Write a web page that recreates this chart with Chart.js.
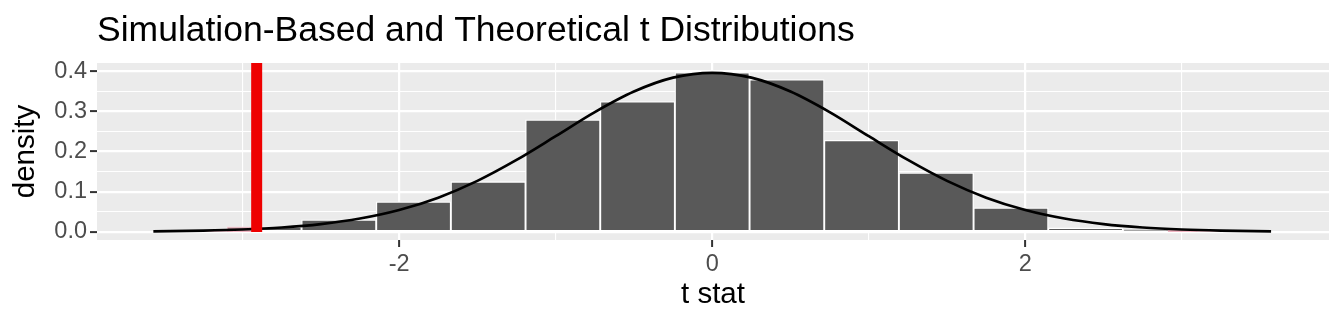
<!DOCTYPE html>
<html>
<head>
<meta charset="utf-8">
<script src="https://cdn.jsdelivr.net/npm/chart.js@4.4.1/dist/chart.umd.min.js"></script>
<style>
  html, body { margin: 0; padding: 0; background: #ffffff; }
  canvas { display: block; }
</style>
</head>
<body>
<canvas id="tChart" width="1344" height="326"></canvas>
<script>
// histogram of the simulated t statistics (bin centres and densities)
const binCenters = [-2.862, -2.385, -1.908, -1.431, -0.954, -0.477, 0, 0.477, 0.954, 1.431, 1.908, 2.385, 2.862];
const binDensity = [0.013, 0.030, 0.075, 0.125, 0.279, 0.324, 0.396, 0.379, 0.228, 0.147, 0.060, 0.010, 0.006];
const binWidth = 0.477;

// theoretical t density
const curveX = [-3.57, -3.25, -3.0, -2.75, -2.5, -2.25, -2.0, -1.75, -1.5, -1.25, -1.0, -0.75, -0.5, -0.25, 0,
                0.25, 0.5, 0.75, 1.0, 1.25, 1.5, 1.75, 2.0, 2.25, 2.5, 2.75, 3.0, 3.25, 3.57];
const curveY = [0.0015, 0.0033, 0.0061, 0.0111, 0.0196, 0.0334, 0.0546, 0.0853, 0.1270, 0.1790, 0.2380, 0.2979, 0.3490, 0.3835, 0.3956,
                0.3835, 0.3490, 0.2979, 0.2380, 0.1790, 0.1270, 0.0853, 0.0546, 0.0334, 0.0196, 0.0111, 0.0061, 0.0033, 0.0015];

// observed statistic
const obsStat = -2.91;
const obsDensity = 0.0075;

// axes
const xMajor = [-2, 0, 2];
const xMinor = [-3, -1, 1, 3];
const yMajor = [0, 0.1, 0.2, 0.3, 0.4];
const yMinor = [0.05, 0.15, 0.25, 0.35];
const xRange = [-3.93, 3.94];
const yRange = [-0.02, 0.42];

const titleText = 'Simulation-Based and Theoretical t Distributions';
const fontFamily = '"Liberation Sans", Arial, Helvetica, sans-serif';
Chart.defaults.font.family = fontFamily;

const histData = binCenters.map((x, i) => ({x: x, y: binDensity[i]}));
const curveData = curveX.map((x, i) => ({x: x, y: curveY[i]}));

// p-value region: |t| beyond the observed statistic
const cut = Math.abs(obsStat);
const leftTail = curveData.filter(p => p.x <= -cut).concat([{x: -cut, y: obsDensity}]);
const rightTail = [{x: cut, y: obsDensity}].concat(curveData.filter(p => p.x >= cut));
const firstBin = binCenters[0], lastBin = binCenters[binCenters.length - 1];
const leftBinShade = [{x: firstBin - binWidth / 2, y: binDensity[0]}, {x: -cut, y: binDensity[0]}];
const rightBinShade = [{x: cut, y: binDensity[binDensity.length - 1]}, {x: lastBin + binWidth / 2, y: binDensity[binDensity.length - 1]}];

const shadeFill = 'rgba(238,169,184,0.6)';

function gridTicks(major, minor) {
    return major.map(v => ({value: v, minor: false}))
        .concat(minor.map(v => ({value: v, minor: true})))
        .sort((a, b) => a.value - b.value);
}

const panelBackground = {
    id: 'panelBackground',
    beforeDraw(chart) {
        const {ctx, chartArea} = chart;
        ctx.save();
        ctx.fillStyle = '#EBEBEB';
        ctx.fillRect(chartArea.left, chartArea.top, chartArea.right - chartArea.left, chartArea.bottom - chartArea.top);
        ctx.restore();
    }
};

const plotTitle = {
    id: 'plotTitle',
    afterDraw(chart) {
        const ctx = chart.ctx;
        ctx.save();
        ctx.font = '35.5px ' + fontFamily;
        ctx.fillStyle = '#000000';
        ctx.textAlign = 'left';
        ctx.textBaseline = 'alphabetic';
        ctx.fillText(titleText, chart.chartArea.left, 41);
        ctx.restore();
    }
};

function shadeSet(data) {
    return {
        type: 'line',
        data: data,
        borderColor: 'rgba(0,0,0,0)',
        borderWidth: 0,
        backgroundColor: shadeFill,
        fill: 'origin',
        pointRadius: 0,
        order: 3,
        clip: 0
    };
}

const ctx = document.getElementById('tChart').getContext('2d');
const tChart = new Chart(ctx, {
    type: 'bar',
    data: {
        datasets: [{
            type: 'bar',
            data: histData,
            backgroundColor: '#595959',
            borderColor: '#ffffff',
            borderWidth: 1.3,
            borderSkipped: false,
            barPercentage: 1,
            categoryPercentage: 1,
            order: 4
        },
        shadeSet(leftBinShade),
        shadeSet(rightBinShade),
        shadeSet(leftTail),
        shadeSet(rightTail),
        {
            type: 'line',
            data: curveData,
            borderColor: '#000000',
            borderWidth: 2.7,
            cubicInterpolationMode: 'monotone',
            pointRadius: 0,
            fill: false,
            order: 2,
            clip: 0
        }, {
            // observed statistic
            type: 'line',
            data: [{x: obsStat, y: 0}, {x: obsStat, y: yRange[1]}],
            borderColor: '#EE0000',
            borderWidth: 11,
            pointRadius: 0,
            fill: false,
            order: 1,
            clip: 0
        }]
    },
    options: {
        responsive: false,
        animation: false,
        layout: {
            padding: {top: 63, right: 15, bottom: 0, left: 0}
        },
        plugins: {
            legend: {display: false},
            tooltip: {enabled: false},
            title: {display: false}
        },
        scales: {
            x: {
                type: 'linear',
                min: xRange[0],
                max: xRange[1],
                offset: false,
                border: {display: false},
                grid: {
                    offset: false,
                    color: '#ffffff',
                    lineWidth: c => c.tick && c.tick.minor ? 1.1 : 2.2,
                    tickColor: c => c.tick && c.tick.minor ? 'rgba(0,0,0,0)' : '#333333',
                    tickWidth: 2,
                    tickLength: 7
                },
                afterBuildTicks: s => { s.ticks = gridTicks(xMajor, xMinor); },
                afterFit: s => { s.height = 86; },
                ticks: {
                    autoSkip: false,
                    maxRotation: 0,
                    padding: 3,
                    color: '#4D4D4D',
                    font: {size: 23.5},
                    callback: (v) => xMajor.includes(v) ? String(v) : ''
                },
                title: {
                    display: true,
                    text: 't stat',
                    color: '#000000',
                    font: {size: 29.5},
                    padding: {top: 0, bottom: 13}
                }
            },
            y: {
                type: 'linear',
                min: yRange[0],
                max: yRange[1],
                border: {display: false},
                grid: {
                    color: '#ffffff',
                    lineWidth: c => c.tick && c.tick.minor ? 1.1 : 2.2,
                    tickColor: c => c.tick && c.tick.minor ? 'rgba(0,0,0,0)' : '#333333',
                    tickWidth: 2,
                    tickLength: 7
                },
                afterBuildTicks: s => { s.ticks = gridTicks(yMajor, yMinor); },
                afterFit: s => { s.width = 97; },
                ticks: {
                    autoSkip: false,
                    padding: 3,
                    color: '#4D4D4D',
                    font: {size: 23.5},
                    callback: (v) => yMajor.includes(v) ? v.toFixed(1) : ''
                },
                title: {
                    display: true,
                    text: 'density',
                    color: '#000000',
                    font: {size: 29.5},
                    padding: {top: 8, bottom: 0}
                }
            }
        }
    },
    plugins: [panelBackground, plotTitle]
});
</script>
</body>
</html>
